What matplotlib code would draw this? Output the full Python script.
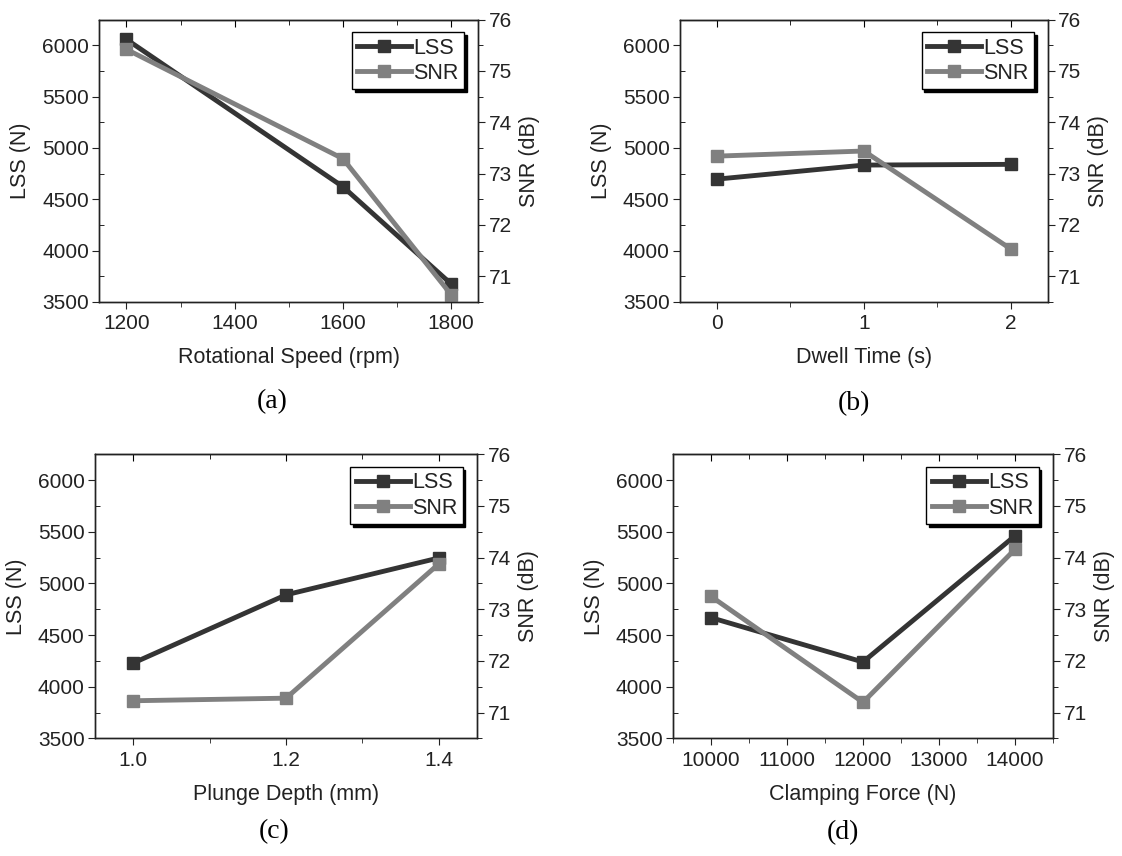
import matplotlib
matplotlib.use("Agg")
import matplotlib.pyplot as plt
from matplotlib.ticker import MultipleLocator, NullFormatter, FormatStrFormatter

plt.rcParams["font.family"] = ["Liberation Sans", "DejaVu Sans"]

# (a) rotational speed
speed = [1200, 1600, 1800]
lss_speed = [6057, 4622, 3675]
snr_speed = [75.42, 73.29, 70.64]

# (b) dwell time
dwell = [0, 1, 2]
lss_dwell = [4696, 4833, 4840]
snr_dwell = [73.34, 73.44, 71.53]

# (c) plunge depth
depth = [1.0, 1.2, 1.4]
lss_depth = [4230, 4890, 5247]
snr_depth = [71.23, 71.28, 73.88]

# (d) clamping force
force = [10000, 12000, 14000]
lss_force = [4669, 4240, 5461]
snr_force = [73.25, 71.20, 74.16]

LSS_COL = "#343434"
SNR_COL = "#808080"
TXT = "#222222"

fig = plt.figure(figsize=(11.22, 8.56), dpi=100)


def panel(rect, x, lss, snr, xlim, xmaj, xmin, xfmt, xlabel, caption, capxy):
    ax = fig.add_axes(rect)
    l1, = ax.plot(x, lss, color=LSS_COL, lw=3.5, marker="s", ms=9, label="LSS")
    ax.set_xlim(*xlim)
    ax.set_ylim(3500, 6250)
    ax.yaxis.set_major_locator(MultipleLocator(500))
    ax.yaxis.set_minor_locator(MultipleLocator(250))
    ax.xaxis.set_major_locator(MultipleLocator(xmaj))
    ax.xaxis.set_minor_locator(MultipleLocator(xmin))
    ax.xaxis.set_major_formatter(FormatStrFormatter(xfmt))
    ax.tick_params(axis="x", which="both", direction="out", top=False,
                   labelsize=15, colors=TXT, pad=4)
    ax.tick_params(axis="x", which="major", length=5)
    ax.tick_params(axis="x", which="minor", length=3.5)
    ax.tick_params(axis="y", which="major", direction="out", length=5,
                   labelsize=15, colors=TXT, pad=2.5)
    ax.tick_params(axis="y", which="minor", direction="in", length=3.5)
    ax.set_xlabel(xlabel, fontsize=15.5, color=TXT, labelpad=10)
    ax.set_ylabel("LSS (N)", fontsize=15.5, color=TXT, labelpad=8)

    # top axis: ticks only, pointing in
    top = ax.secondary_xaxis("top")
    top.xaxis.set_major_locator(MultipleLocator(xmaj))
    top.xaxis.set_minor_locator(MultipleLocator(xmin))
    top.xaxis.set_major_formatter(NullFormatter())
    top.tick_params(which="both", direction="in")
    top.tick_params(which="major", length=5)
    top.tick_params(which="minor", length=3.5)

    ax2 = ax.twinx()
    l2, = ax2.plot(x, snr, color=SNR_COL, lw=3.5, marker="s", ms=9, label="SNR")
    ax2.set_ylim(70.5, 76)
    ax2.yaxis.set_major_locator(MultipleLocator(1))
    ax2.yaxis.set_minor_locator(MultipleLocator(0.5))
    ax2.tick_params(axis="y", which="major", direction="out", length=5,
                    labelsize=15, colors=TXT, pad=2.5)
    ax2.tick_params(axis="y", which="minor", direction="out", length=3.5)
    ax2.set_ylabel("SNR (dB)", fontsize=15.5, color=TXT, labelpad=5)

    for a in (ax, ax2):
        for s in a.spines.values():
            s.set_linewidth(1.0)
            s.set_color(TXT)

    leg = ax2.legend(handles=[l1, l2], loc="upper right",
                     bbox_to_anchor=(0.962, 0.955), borderaxespad=0,
                     fontsize=15.5, frameon=True, fancybox=False,
                     shadow={"color": "black", "alpha": 1.0},
                     edgecolor="black", framealpha=1, handlelength=2.5,
                     handletextpad=0.1, borderpad=0.25, labelspacing=0.2,
                     numpoints=1)
    leg.get_frame().set_linewidth(1.0)
    for t in leg.get_texts():
        t.set_color(TXT)

    fig.text(capxy[0], capxy[1], caption, ha="center", va="center",
             fontsize=20, family=["Liberation Serif", "DejaVu Serif"], color="black")


panel([0.0885, 0.6472, 0.3378, 0.330], speed, lss_speed, snr_speed,
      (1150, 1850), 200, 100, "%d", "Rotational Speed (rpm)", "(a)", (0.2424, 0.531))
panel([0.6061, 0.6472, 0.3277, 0.330], dwell, lss_dwell, snr_dwell,
      (-0.25, 2.25), 1, 0.5, "%d", "Dwell Time (s)", "(b)", (0.761, 0.529))
panel([0.0847, 0.1373, 0.3405, 0.332], depth, lss_depth, snr_depth,
      (0.95, 1.45), 0.2, 0.1, "%.1f", "Plunge Depth (mm)", "(c)", (0.244, 0.028))
panel([0.5998, 0.1373, 0.3387, 0.332], force, lss_force, snr_force,
      (9500, 14500), 1000, 500, "%d", "Clamping Force (N)", "(d)", (0.751, 0.027))

fig.savefig("out.png", dpi=100)
